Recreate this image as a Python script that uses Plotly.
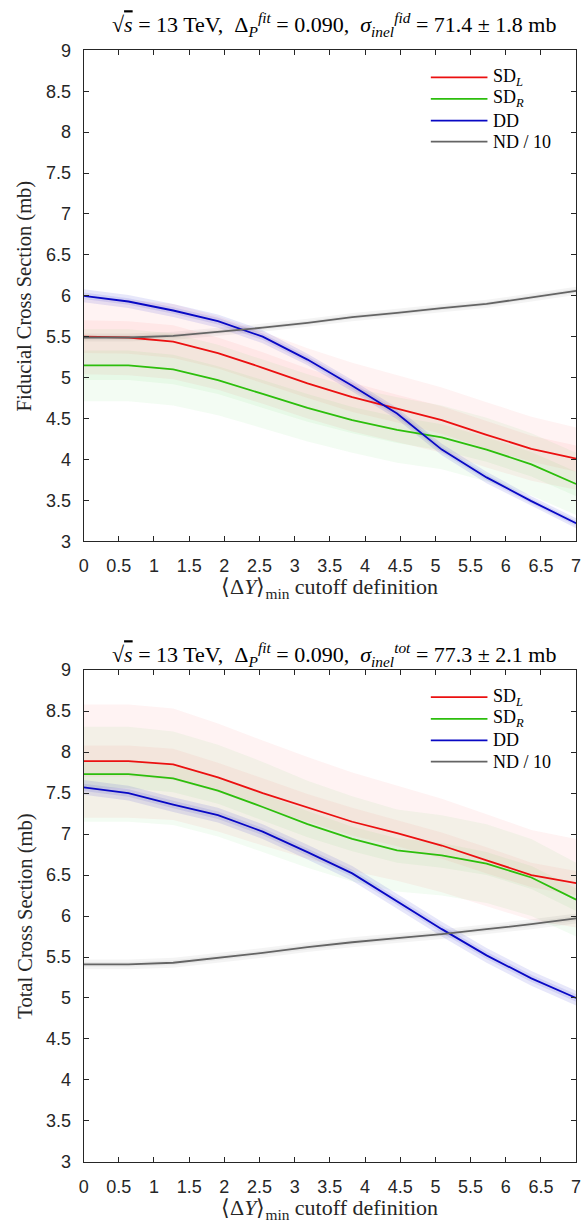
import plotly.graph_objects as go
import numpy as np

# ---------------- data ----------------
x_cut = [0.0, 0.636, 1.273, 1.909, 2.545, 3.182, 3.818, 4.455, 5.091, 5.727, 6.364, 7.0]

# Fiducial (top panel)
fid_sdl = [5.50, 5.49, 5.44, 5.30, 5.12, 4.93, 4.76, 4.62, 4.48, 4.30, 4.13, 4.01]
fid_sdr = [5.15, 5.15, 5.10, 4.97, 4.80, 4.63, 4.48, 4.36, 4.27, 4.12, 3.94, 3.70]
fid_dd = [6.00, 5.93, 5.82, 5.69, 5.50, 5.22, 4.90, 4.56, 4.12, 3.78, 3.49, 3.22]
fid_nd = [5.49, 5.49, 5.51, 5.56, 5.61, 5.67, 5.74, 5.79, 5.85, 5.90, 5.98, 6.06]

fid_sdl_err_out = [0.46, 0.46, 0.46, 0.45, 0.44, 0.43, 0.42, 0.41, 0.40, 0.40, 0.39, 0.38]
fid_sdl_err_in = [0.20, 0.20, 0.20, 0.19, 0.19, 0.18, 0.18, 0.17, 0.17, 0.17, 0.16, 0.16]
fid_sdr_err_out = [0.44, 0.44, 0.44, 0.43, 0.42, 0.41, 0.40, 0.40, 0.39, 0.39, 0.38, 0.38]
fid_sdr_err_in = [0.18, 0.18, 0.18, 0.17, 0.17, 0.17, 0.16, 0.16, 0.16, 0.15, 0.15, 0.15]
fid_dd_err_out = [0.08, 0.08, 0.08, 0.08, 0.08, 0.07, 0.07, 0.07, 0.07, 0.07, 0.06, 0.06]
fid_dd_err_in = [0.04, 0.04, 0.04, 0.04, 0.04, 0.04, 0.04, 0.04, 0.035, 0.035, 0.03, 0.03]
fid_nd_err_out = [0.05, 0.05, 0.05, 0.05, 0.05, 0.05, 0.05, 0.05, 0.05, 0.05, 0.05, 0.05]
fid_nd_err_in = [0.025, 0.025, 0.025, 0.025, 0.025, 0.025, 0.025, 0.025, 0.025, 0.025, 0.025, 0.025]

# Total (bottom panel)
tot_sdl = [7.89, 7.89, 7.85, 7.69, 7.50, 7.32, 7.15, 7.01, 6.86, 6.68, 6.50, 6.40]
tot_sdr = [7.73, 7.73, 7.68, 7.53, 7.33, 7.12, 6.94, 6.80, 6.74, 6.64, 6.47, 6.20]
tot_dd = [7.57, 7.50, 7.36, 7.23, 7.03, 6.78, 6.52, 6.18, 5.84, 5.52, 5.24, 5.00]
tot_nd = [5.41, 5.41, 5.43, 5.49, 5.55, 5.62, 5.68, 5.73, 5.78, 5.84, 5.90, 5.97]

tot_sdl_err_out = [0.69, 0.69, 0.68, 0.66, 0.64, 0.62, 0.60, 0.58, 0.57, 0.56, 0.55, 0.54]
tot_sdl_err_in = [0.19, 0.19, 0.19, 0.18, 0.18, 0.17, 0.17, 0.16, 0.16, 0.16, 0.15, 0.15]
tot_sdr_err_out = [0.58, 0.58, 0.57, 0.56, 0.55, 0.53, 0.52, 0.50, 0.49, 0.48, 0.47, 0.45]
tot_sdr_err_in = [0.17, 0.17, 0.17, 0.16, 0.16, 0.16, 0.15, 0.15, 0.15, 0.14, 0.14, 0.14]
tot_dd_err_out = [0.09, 0.09, 0.09, 0.09, 0.09, 0.09, 0.09, 0.09, 0.09, 0.09, 0.09, 0.09]
tot_dd_err_in = [0.045, 0.045, 0.045, 0.045, 0.045, 0.045, 0.045, 0.045, 0.045, 0.045, 0.045, 0.045]
tot_nd_err_out = [0.06, 0.06, 0.06, 0.06, 0.06, 0.06, 0.06, 0.06, 0.06, 0.06, 0.06, 0.06]
tot_nd_err_in = [0.03, 0.03, 0.03, 0.03, 0.03, 0.03, 0.03, 0.03, 0.03, 0.03, 0.03, 0.03]

series_names = ["SD<sub><i>L</i></sub>", "SD<sub><i>R</i></sub>", "DD", "ND / 10"]
x_ticks = [0, 0.5, 1, 1.5, 2, 2.5, 3, 3.5, 4, 4.5, 5, 5.5, 6, 6.5, 7]
y_ticks = [3, 3.5, 4, 4.5, 5, 5.5, 6, 6.5, 7, 7.5, 8, 8.5, 9]

# ---------------- styles ----------------
W, H = 587, 1230
line_colors = ["rgb(235,16,16)", "rgb(44,190,12)", "rgb(8,8,196)", "rgb(100,100,100)"]
band_colors = ["rgba(255,30,30,0.055)", "rgba(40,200,40,0.055)", "rgba(40,40,210,0.11)", "rgba(0,0,0,0.045)"]
SERIF = "Liberation Serif, Times New Roman, serif"
SANS = "Liberation Sans, Arial, sans-serif"
AX = "#262626"

px_left, px_right = 80, 581
panels = [
    dict(top=41, bottom=540, data=[fid_sdl, fid_sdr, fid_dd, fid_nd],
         err_out=[fid_sdl_err_out, fid_sdr_err_out, fid_dd_err_out, fid_nd_err_out],
         err_in=[fid_sdl_err_in, fid_sdr_err_in, fid_dd_err_in, fid_nd_err_in],
         title="√<span style='text-decoration:overline'><i>s</i></span> = 13 TeV,  Δ<sub><i>P</i></sub><sup><i>fit</i></sup> = 0.090,  <i>σ</i><sub><i>inel</i></sub><sup><i>fid</i></sup> = 71.4 ± 1.8 mb",
         title_y=15, ylabel="Fiducial Cross Section (mb)"),
    dict(top=671, bottom=1171, data=[tot_sdl, tot_sdr, tot_dd, tot_nd],
         err_out=[tot_sdl_err_out, tot_sdr_err_out, tot_dd_err_out, tot_nd_err_out],
         err_in=[tot_sdl_err_in, tot_sdr_err_in, tot_dd_err_in, tot_nd_err_in],
         title="√<span style='text-decoration:overline'><i>s</i></span> = 13 TeV,  Δ<sub><i>P</i></sub><sup><i>fit</i></sup> = 0.090,  <i>σ</i><sub><i>inel</i></sub><sup><i>tot</i></sup> = 77.3 ± 2.1 mb",
         title_y=655, ylabel="Total Cross Section (mb)"),
]

fig = go.Figure()
annotations = []
shapes = []
xs = np.array(x_cut)

for i, p in enumerate(panels):
    xa = "x" if i == 0 else "x2"
    ya = "y" if i == 0 else "y2"
    xname = "xaxis" if i == 0 else "xaxis2"
    yname = "yaxis" if i == 0 else "yaxis2"
    # bands
    for k in range(4):
        yv = np.array(p["data"][k])
        for err in (p["err_out"][k], p["err_in"][k]):
            e = np.array(err)
            fig.add_trace(go.Scatter(
                x=np.concatenate([xs, xs[::-1]]),
                y=np.concatenate([yv + e, (yv - e)[::-1]]),
                fill="toself", fillcolor=band_colors[k], line=dict(width=0),
                mode="lines", hoverinfo="skip", showlegend=False, xaxis=xa, yaxis=ya))
    # lines
    for k in range(4):
        fig.add_trace(go.Scatter(
            x=x_cut, y=p["data"][k], mode="lines", name=series_names[k],
            line=dict(color=line_colors[k], width=1.8), showlegend=False,
            xaxis=xa, yaxis=ya))

    y0 = 1 - p["bottom"] / H
    y1 = 1 - p["top"] / H
    fig.layout[xname] = dict(
        domain=[px_left / W, px_right / W], range=[0, 7], tickvals=x_ticks,
        ticks="inside", ticklen=5, tickcolor=AX, showline=True, linecolor=AX,
        linewidth=1, mirror="ticks", showgrid=False, zeroline=False,
        tickfont=dict(family=SANS, size=18, color=AX), ticklabelstandoff=8,
        anchor=ya, fixedrange=True)
    fig.layout[yname] = dict(
        domain=[y0, y1], range=[3, 9], tickvals=y_ticks,
        ticks="inside", ticklen=5, tickcolor=AX, showline=True, linecolor=AX,
        linewidth=1, mirror="ticks", showgrid=False, zeroline=False,
        tickfont=dict(family=SANS, size=18, color=AX), ticklabelstandoff=8,
        anchor=xa, fixedrange=True)

    # title
    annotations.append(dict(text=p["title"], xref="paper", yref="paper",
                            x=(px_left + px_right) / 2 / W + 4 / W, y=1 - p["title_y"] / H,
                            xanchor="center", yanchor="middle", showarrow=False,
                            font=dict(family=SERIF, size=22, color="black")))
    # x label
    annotations.append(dict(text="⟨Δ<i>Y</i>⟩<sub>min</sub> cutoff definition",
                            xref="paper", yref="paper",
                            x=(px_left + px_right) / 2 / W, y=1 - (p["bottom"] + 48) / H,
                            xanchor="center", yanchor="middle", showarrow=False,
                            font=dict(family=SERIF, size=22, color=AX)))
    # y label
    annotations.append(dict(text=p["ylabel"], xref="paper", yref="paper",
                            x=20 / W, y=1 - (p["top"] + p["bottom"]) / 2 / H,
                            xanchor="center", yanchor="middle", showarrow=False,
                            textangle=-90, font=dict(family=SERIF, size=20.5, color=AX)))
    # legend
    xd = f"{xa} domain"
    yd = f"{ya} domain"
    rows = [0.945, 0.901, 0.857, 0.814]
    for k in range(4):
        shapes.append(dict(type="line", xref=xd, yref=yd, x0=0.705, x1=0.82,
                           y0=rows[k], y1=rows[k],
                           line=dict(color=line_colors[k], width=1.8)))
        annotations.append(dict(text=series_names[k], xref=xd, yref=yd,
                                x=0.828, y=rows[k], xanchor="left", yanchor="middle",
                                showarrow=False,
                                font=dict(family=SERIF, size=18, color="black")))

fig.update_layout(width=W, height=H, autosize=False,
                  margin=dict(l=0, r=0, t=0, b=0),
                  paper_bgcolor="white", plot_bgcolor="white",
                  annotations=annotations, shapes=shapes, showlegend=False)

fig.write_html("out.html", config={"displayModeBar": False})
